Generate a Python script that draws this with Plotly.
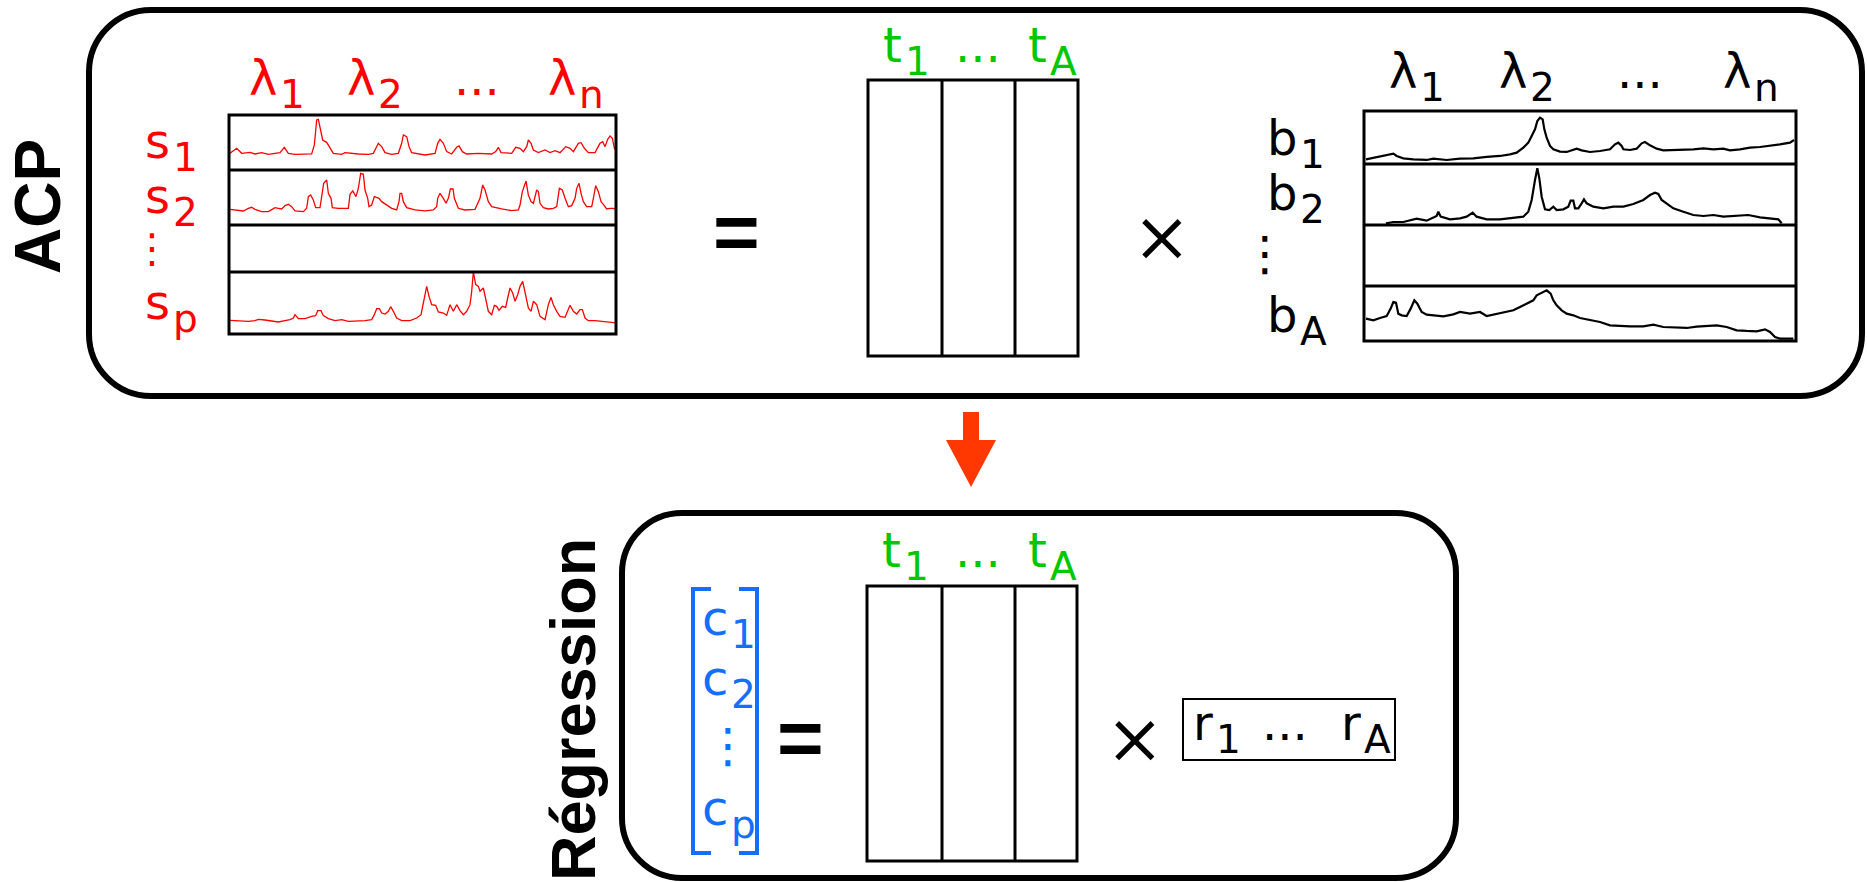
import plotly.graph_objects as go

W, H = 1867, 882

# ---------------------------------------------------------------------------
# Spectra: channel index along the wavelength axis and measured intensity
# ---------------------------------------------------------------------------
s1_ch = [15, 35, 50, 75, 90, 110, 130, 150, 165, 178, 190, 210, 260, 268, 275, 280, 287, 293, 305, 315,
         325, 350, 360, 400, 430, 445, 460, 470, 480, 500, 520, 530, 535, 545, 552, 560, 600, 630, 638, 645,
         655, 665, 680, 695, 702, 712, 725, 760, 800, 812, 820, 828, 860, 872, 885, 895, 905, 910, 918, 925,
         940, 960, 975, 990, 1005, 1022, 1035, 1045, 1060, 1068, 1078, 1090, 1110, 1125, 1133, 1140, 1148,
         1155, 1162, 1168, 1175]
s1_val = [48, 63, 48, 51, 46, 50, 45, 49, 50, 66, 48, 45, 46, 73, 148, 150, 118, 88, 81, 63,
          48, 45, 50, 46, 45, 48, 78, 68, 50, 45, 48, 78, 103, 98, 68, 50, 43, 48, 78, 90,
          78, 53, 46, 66, 70, 53, 46, 48, 46, 53, 66, 50, 48, 66, 63, 53, 68, 88, 78, 58,
          50, 58, 50, 56, 50, 68, 63, 53, 78, 80, 63, 50, 50, 78, 83, 68, 90,
          100, 93, 63, 53]

s2_ch = [15, 40, 55, 70, 80, 90, 110, 130, 150, 160, 170, 180, 190, 200, 210, 235, 245, 250, 257, 265,
         272, 285, 290, 296, 305, 310, 318, 322, 340, 370, 375, 383, 393, 400, 407, 415, 420, 428, 432, 440,
         448, 462, 470, 485, 500, 515, 522, 525, 530, 535, 545, 570, 600, 625, 635, 638, 645, 655, 663, 670,
         676, 684, 688, 700, 720, 750, 765, 773, 780, 790, 800, 830, 860, 880, 885, 892, 903, 910, 918, 925,
         930, 935, 940, 945, 955, 970, 985, 995, 1003, 1012, 1020, 1030, 1040, 1050, 1055, 1062, 1068, 1075,
         1085, 1100, 1105, 1112, 1120, 1128, 1135, 1145, 1155, 1165, 1175]
s2_val = [45, 43, 40, 48, 51, 45, 38, 38, 50, 48, 46, 56, 60, 53, 40, 38, 48, 83, 88, 73,
          50, 50, 78, 123, 133, 93, 78, 50, 48, 48, 90, 100, 83, 108, 153, 150, 103, 78, 53, 58,
          83, 78, 68, 58, 48, 43, 68, 93, 93, 68, 50, 43, 40, 43, 53, 78, 93, 78, 63, 78,
          106, 106, 78, 48, 43, 45, 78, 118, 103, 68, 53, 46, 41, 43, 58, 98, 130, 88, 68, 63,
          88, 103, 98, 63, 50, 46, 48, 53, 108, 103, 78, 53, 56, 78, 108, 123, 93, 68,
          53, 53, 78, 116, 98, 68, 60, 46, 48, 48, 43]

sp_ch = [15, 40, 70, 90, 100, 120, 140, 160, 180, 195, 205, 210, 220, 240, 260, 272, 278, 288, 295, 310,
         330, 350, 370, 400, 420, 440, 448, 455, 463, 470, 480, 490, 497, 505, 515, 530, 555, 575, 588, 595,
         600, 605, 612, 620, 632, 640, 655, 665, 675, 685, 695, 705, 715, 725, 735, 740, 745, 752, 760, 765,
         775, 782, 790, 800, 808, 815, 822, 832, 842, 848, 855, 863, 870, 878, 885, 893, 900, 910, 918, 925,
         935, 945, 960, 970, 978, 985, 995, 1005, 1020, 1030, 1035, 1045, 1055, 1065, 1072, 1080, 1090, 1110,
         1130, 1150, 1175]
sp_val = [38, 37, 35, 37, 41, 39, 35, 33, 37, 40, 45, 55, 43, 43, 50, 52, 67, 67, 52, 43,
          37, 40, 35, 35, 37, 40, 55, 73, 73, 60, 57, 65, 79, 65, 45, 37, 37, 45, 55, 90,
          120, 140, 110, 85, 83, 63, 60, 53, 85, 65, 85, 67, 55, 65, 85, 125, 183, 145, 140, 125,
          135, 100, 65, 55, 83, 80, 68, 80, 77, 105, 135, 120, 95, 115, 140, 155, 120, 75, 65, 95,
          85, 50, 40, 85, 107, 85, 65, 50, 47, 75, 83, 65, 57, 70, 70, 45, 37, 37,
          35, 33, 30]

b1_ch = [18, 40, 60, 80, 100, 110, 130, 160, 200, 220, 260, 300, 340, 380, 420, 450, 470, 490, 505, 515,
         525, 532, 540, 548, 553, 560, 570, 580, 600, 620, 635, 650, 665, 690, 720, 750, 765, 775, 785, 790,
         810, 830, 845, 855, 870, 890, 910, 940, 970, 1000, 1030, 1060, 1090, 1110, 1140, 1170, 1200, 1230,
         1260, 1290, 1302]
b1_val = [15, 20, 23, 27, 32, 25, 18, 15, 13, 17, 13, 17, 18, 22, 25, 30, 35, 50, 65, 85,
          105, 130, 140, 135, 105, 80, 55, 45, 38, 37, 43, 47, 42, 37, 40, 45, 60, 65, 55, 45,
          43, 47, 63, 67, 57, 47, 42, 43, 42, 45, 48, 45, 47, 42, 45, 50, 52, 55,
          60, 65, 73]

b2_ch = [78, 100, 130, 150, 170, 200, 220, 230, 235, 242, 270, 300, 320, 338, 350, 380, 420, 460, 490, 505,
         515, 525, 532, 538, 545, 555, 568, 580, 590, 610, 625, 632, 640, 645, 655, 665, 672, 680, 700, 730,
         760, 790, 820, 850, 870, 885, 895, 905, 920, 940, 970, 1000, 1030, 1060, 1090, 1130, 1165, 1200,
         1230, 1255, 1265]
b2_val = [2, 6, 6, 10, 16, 10, 20, 24, 37, 22, 14, 17, 22, 34, 22, 14, 14, 18, 22, 37,
          72, 132, 167, 137, 82, 44, 42, 52, 42, 44, 52, 70, 70, 47, 47, 62, 74, 62, 52, 47,
          52, 52, 60, 72, 87, 94, 90, 72, 62, 47, 37, 27, 24, 27, 22, 24, 27, 20,
          17, 14, 2]

bA_ch = [18, 40, 60, 80, 92, 100, 108, 115, 125, 140, 152, 163, 172, 185, 200, 220, 250, 280, 300, 330,
         360, 380, 400, 430, 460, 480, 500, 520, 530, 545, 560, 572, 580, 590, 605, 620, 640, 660, 690, 720,
         750, 780, 810, 850, 880, 910, 950, 980, 1010, 1040, 1070, 1100, 1130, 1160, 1190, 1215, 1230, 1245,
         1260, 1300]
bA_val = [68, 63, 70, 76, 98, 118, 116, 83, 78, 76, 98, 123, 113, 88, 80, 78, 75, 81, 88, 83,
          88, 76, 80, 85, 93, 103, 113, 123, 138, 146, 153, 143, 123, 108, 93, 83, 78, 70, 63, 58,
          48, 46, 45, 45, 50, 43, 41, 40, 44, 45, 48, 43, 33, 31, 30, 36, 28, 13,
          8, 8]

# ---------------------------------------------------------------------------
# Text content: (symbol, index) pairs
# ---------------------------------------------------------------------------
wavelength_labels = [("λ", "1"), ("λ", "2"), ("...", ""), ("λ", "n")]
sample_labels = [("s", "1"), ("s", "2"), ("s", "p")]
score_labels = [("t", "1"), ("...", ""), ("t", "A")]
loading_labels = [("b", "1"), ("b", "2"), ("b", "A")]
conc_labels = [("c", "1"), ("c", "2"), ("c", "p")]
coef_labels = [("r", "1"), ("...", ""), ("r", "A")]
block_titles = ["ACP", "Régression"]

RED = "rgb(255,0,0)"
GREEN = "rgb(0,200,0)"
BLUE = "rgb(20,110,255)"
ARROW = "rgb(255,55,0)"
BLACK = "black"
FONT = "DejaVu Sans"
SIZE = 48          # main symbol size
SUB = 39           # index size
SUB_DROP = 13      # index baseline sits this far below the symbol baseline
MID = 0.346        # baseline-to-box-centre offset for DejaVu Sans, in em


def fx(x):
    return x / W


def fy(y):
    return 1 - y / H


shapes = []
annotations = []


def rect(x0, y0, x1, y1, width=3, color=BLACK):
    shapes.append(dict(type="rect", xref="paper", yref="paper",
                       x0=fx(x0), y0=fy(y1), x1=fx(x1), y1=fy(y0),
                       line=dict(color=color, width=width)))


def hline(x0, x1, y, width=3):
    shapes.append(dict(type="line", xref="paper", yref="paper",
                       x0=fx(x0), x1=fx(x1), y0=fy(y), y1=fy(y),
                       line=dict(color=BLACK, width=width)))


def vline(x, y0, y1, width=3):
    shapes.append(dict(type="line", xref="paper", yref="paper",
                       x0=fx(x), x1=fx(x), y0=fy(y0), y1=fy(y1),
                       line=dict(color=BLACK, width=width)))


def path(segments, close=False, **kw):
    d = " ".join(f"{cmd}{' '.join(f'{fx(x):.5f},{fy(y):.5f}' for x, y in pts)}"
                 for cmd, pts in segments)
    if close:
        d += " Z"
    shapes.append(dict(type="path", xref="paper", yref="paper", path=d, **kw))


def polyline(points, **kw):
    segs = [("M", [points[0]])] + [("L", [p]) for p in points[1:]]
    path(segs, **kw)


def rounded_box(x0, y0, x1, y1, r, width=6):
    k = 0.5523 * r
    segs = [
        ("M", [(x0 + r, y0)]),
        ("L", [(x1 - r, y0)]),
        ("C", [(x1 - r + k, y0), (x1, y0 + r - k), (x1, y0 + r)]),
        ("L", [(x1, y1 - r)]),
        ("C", [(x1, y1 - r + k), (x1 - r + k, y1), (x1 - r, y1)]),
        ("L", [(x0 + r, y1)]),
        ("C", [(x0 + r - k, y1), (x0, y1 - r + k), (x0, y1 - r)]),
        ("L", [(x0, y0 + r)]),
        ("C", [(x0, y0 + r - k), (x0 + r - k, y0), (x0 + r, y0)]),
    ]
    path(segs, close=True, line=dict(color=BLACK, width=width))


def text(t, x, y, color, size=SIZE, family=FONT, angle=0, weight=None, anchor="center"):
    font = dict(family=family, size=size, color=color)
    if weight is not None:
        font["weight"] = weight
    annotations.append(dict(text=t, x=fx(x), y=fy(y), xref="paper", yref="paper",
                            showarrow=False, xanchor=anchor, yanchor="middle", borderpad=0,
                            textangle=angle, font=font))


def indexed(item, x, baseline, color):
    """Symbol ending at x with its index starting at x; a bare symbol is centred on x."""
    base, idx = item
    if not idx:
        text(base, x, baseline - MID * SIZE, color)
        return
    text(base, x, baseline - MID * SIZE, color, anchor="right")
    text(idx, x + 0.5, baseline + SUB_DROP - MID * SUB, color, size=SUB, anchor="left")


# ---------------------------------------------------------------------------
# Outer blocks and arrow between them
# ---------------------------------------------------------------------------
rounded_box(89, 10, 1862, 396, 62)
rounded_box(622, 513, 1456, 878, 60)

no_line = dict(color=ARROW, width=0)
shapes.append(dict(type="rect", xref="paper", yref="paper", x0=fx(963), x1=fx(979),
                   y0=fy(441), y1=fy(412), fillcolor=ARROW, line=no_line))
path([("M", [(946, 440)]), ("L", [(996, 440)]), ("L", [(971, 487)])], close=True,
     fillcolor=ARROW, line=no_line)

text(f"<b>{block_titles[0]}</b>", 38, 207, BLACK, size=64, family="Liberation Sans", angle=-90)
text(f"<b>{block_titles[1]}</b>", 573, 710, BLACK, size=63, family="Liberation Sans", angle=-90)

# ---------------------------------------------------------------------------
# ACP block: spectra matrix = scores x loadings
# ---------------------------------------------------------------------------
rect(229, 115, 616, 334)
for y in (170, 225, 272):
    hline(229, 616, y)
for item, x in zip(wavelength_labels, [278, 376, 477, 577]):
    indexed(item, x, 95, RED)
for item, base_y in zip(sample_labels, [158, 213, 319]):
    indexed(item, 171, base_y, RED)
text("⋮", 152, 248, RED, size=40)

text("<b>=</b>", 736, 232, BLACK, size=80, family="Liberation Sans")

rect(868, 80, 1078, 356)
vline(942, 80, 356)
vline(1015, 80, 356)
for item, x in zip(score_labels, [903, 978, 1048]):
    indexed(item, x, 62, GREEN)

text("×", 1162, 232, BLACK, size=88, family="Inter", weight=300)

rect(1364, 111, 1796, 341)
for y in (164, 225, 286):
    hline(1364, 1796, y)
for item, x in zip(wavelength_labels, [1418, 1528, 1640, 1752]):
    indexed(item, x, 88, BLACK)
for item, base_y in zip(loading_labels, [155, 210, 332]):
    indexed(item, 1298, base_y, BLACK)
text("⋮", 1265, 253, BLACK)

# ---------------------------------------------------------------------------
# Regression block: concentrations = scores x coefficients
# ---------------------------------------------------------------------------
bracket = dict(color=BLUE, width=4)
polyline([(711, 589), (693, 589), (693, 853), (711, 853)], line=bracket)
polyline([(739, 589), (757, 589), (757, 853), (739, 853)], line=bracket)
for item, base_y in zip(conc_labels, [635, 695, 825]):
    indexed(item, 729, base_y, BLUE)
text("⋮", 728, 745, BLUE)

text("<b>=</b>", 800, 737, BLACK, size=80, family="Liberation Sans")

rect(867, 586, 1077, 861)
vline(942, 586, 861)
vline(1015, 586, 861)
for item, x in zip(score_labels, [902, 978, 1048]):
    indexed(item, x, 567, GREEN)

text("×", 1135, 734, BLACK, size=88, family="Inter", weight=300)

rect(1183, 699, 1395, 760, width=2)
for item, x in zip(coef_labels, [1214, 1285, 1362]):
    indexed(item, x, 740, BLACK)

# ---------------------------------------------------------------------------
# Spectra drawn in their own axes, one per matrix row
# ---------------------------------------------------------------------------
spectra = [
    (s1_ch, s1_val, (229, 115, 615.7, 169.3), (12, 1172), (0, 163), RED, 1.3),
    (s2_ch, s2_val, (229, 170, 615.7, 224.3), (12, 1172), (0, 163), RED, 1.3),
    (sp_ch, sp_val, (229, 272, 615.7, 333.0), (12, 1172), (0, 183), RED, 1.3),
    (b1_ch, b1_val, (1364, 111, 1796, 164.3), (12, 1308), (0, 160), BLACK, 2.2),
    (b2_ch, b2_val, (1364, 164, 1796, 224.0), (12, 1308), (0, 180), BLACK, 2.2),
    (bA_ch, bA_val, (1364, 286, 1796, 341.3), (12, 1308), (0, 166), BLACK, 2.2),
]

fig = go.Figure()
layout_axes = {}
for i, (ch, val, box, xr, yr, color, lw) in enumerate(spectra, start=1):
    sfx = "" if i == 1 else str(i)
    x0, y0, x1, y1 = box
    layout_axes[f"xaxis{sfx}"] = dict(domain=[fx(x0), fx(x1)], range=list(xr), visible=False,
                                      anchor=f"y{sfx}", fixedrange=True)
    layout_axes[f"yaxis{sfx}"] = dict(domain=[fy(y1), fy(y0)], range=list(yr), visible=False,
                                      anchor=f"x{sfx}", fixedrange=True)
    fig.add_trace(go.Scatter(x=ch, y=val, mode="lines", xaxis=f"x{sfx}", yaxis=f"y{sfx}",
                             line=dict(color=color, width=lw), hoverinfo="skip"))

fig.update_layout(
    width=W, height=H,
    margin=dict(l=0, r=0, t=0, b=0),
    paper_bgcolor="white", plot_bgcolor="rgba(0,0,0,0)",
    showlegend=False,
    shapes=shapes,
    annotations=annotations,
    **layout_axes,
)

fig.write_html("out.html", config={"displayModeBar": False})
